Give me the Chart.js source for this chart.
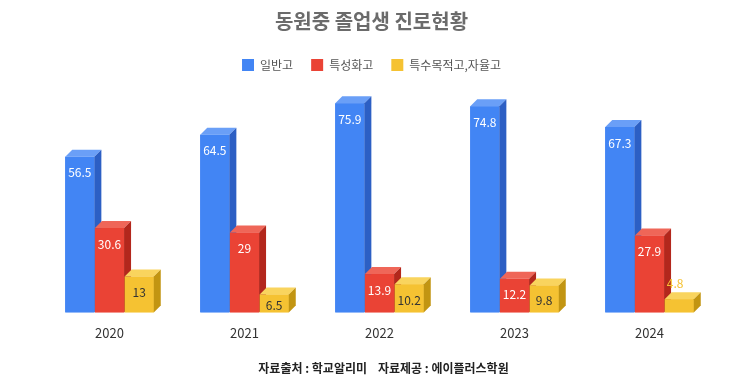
<!DOCTYPE html>
<html>
<head>
<meta charset="utf-8">
<script src="https://cdn.jsdelivr.net/npm/chart.js@4.4.0/dist/chart.umd.min.js"></script>
<style>
  html, body { margin: 0; padding: 0; background: #fff; }
</style>
</head>
<body>
<canvas id="c" width="743" height="389"></canvas>
<script>
// 동원중 졸업생 진로현황 (%)
const years = ['2020', '2021', '2022', '2023', '2024'];
const seriesNames = ['일반고', '특성화고', '특수목적고,자율고'];
const general = [56.5, 64.5, 75.9, 74.8, 67.3];
const vocational = [30.6, 29, 13.9, 12.2, 27.9];
const special = [13, 6.5, 10.2, 9.8, 4.8];

const FONT = '"Noto Sans CJK KR", "Noto Sans", sans-serif';

// front / top / side shades for each series
const shades = [
    { front: '#4285f4', top: '#6a9ff7', side: '#2c5fc4', label: '#ffffff' },
    { front: '#ea4335', top: '#ef6658', side: '#b3271c', label: '#ffffff' },
    { front: '#f5c232', top: '#f9d45e', side: '#c29512', label: '#333333' }
];

const DEPTH = 7;

const bars3d = {
    id: 'bars3d',
    afterDatasetsDraw: function (chart) {
        const ctx = chart.ctx;
        const d = DEPTH;
        ctx.save();
        for (let i = 0; i < chart.data.labels.length; i++) {
            chart.data.datasets.forEach(function (ds, j) {
                const el = chart.getDatasetMeta(j).data[i];
                const p = el.getProps(['x', 'y', 'base', 'width'], true);
                const l = p.x - p.width / 2, r = p.x + p.width / 2;
                const c = shades[j];
                // front
                ctx.fillStyle = c.front;
                ctx.fillRect(l, p.y, p.width, p.base - p.y);
                // top
                ctx.fillStyle = c.top;
                ctx.beginPath();
                ctx.moveTo(l, p.y);
                ctx.lineTo(l + d, p.y - d);
                ctx.lineTo(r + d, p.y - d);
                ctx.lineTo(r, p.y);
                ctx.closePath();
                ctx.fill();
                // side
                ctx.fillStyle = c.side;
                ctx.beginPath();
                ctx.moveTo(r, p.y);
                ctx.lineTo(r + d, p.y - d);
                ctx.lineTo(r + d, p.base - d);
                ctx.lineTo(r, p.base);
                ctx.closePath();
                ctx.fill();
            });
        }
        // value labels
        ctx.font = '12px ' + FONT;
        ctx.textAlign = 'center';
        ctx.textBaseline = 'middle';
        chart.data.datasets.forEach(function (ds, j) {
            chart.getDatasetMeta(j).data.forEach(function (el, i) {
                const p = el.getProps(['x', 'y', 'base'], true);
                const h = p.base - p.y;
                const txt = String(ds.data[i]);
                if (h < 15) {
                    ctx.fillStyle = shades[j].front;
                    ctx.fillText(txt, p.x - 4, p.y - 16);
                } else {
                    ctx.fillStyle = shades[j].label;
                    ctx.fillText(txt, p.x, p.y + Math.min(16, h / 2 + 2));
                }
            });
        });
        ctx.restore();
    },
    afterDraw: function (chart) {
        const ctx = chart.ctx;
        ctx.save();
        ctx.font = 'bold 12px ' + FONT;
        ctx.fillStyle = '#222222';
        ctx.textAlign = 'center';
        ctx.textBaseline = 'middle';
        ctx.fillText('자료출처 : 학교알리미    자료제공 : 에이플러스학원', chart.width / 2 + 12, 368);
        ctx.restore();
    }
};

new Chart(document.getElementById('c').getContext('2d'), {
    type: 'bar',
    data: {
        labels: years,
        datasets: [
            { label: seriesNames[0], data: general, backgroundColor: shades[0].front },
            { label: seriesNames[1], data: vocational, backgroundColor: shades[1].front },
            { label: seriesNames[2], data: special, backgroundColor: shades[2].front }
        ]
    },
    options: {
        responsive: false,
        animation: false,
        datasets: {
            bar: {
                categoryPercentage: 0.66,
                barPercentage: 0.98,
                backgroundColor: 'rgba(0,0,0,0)'
            }
        },
        layout: { padding: { top: 0, bottom: 43 } },
        plugins: {
            title: {
                display: true,
                text: '동원중 졸업생 진로현황',
                color: '#6b6b6b',
                font: { family: FONT, size: 20, weight: 'bold' },
                padding: { top: 9, bottom: 8 }
            },
            legend: {
                display: true,
                labels: {
                    color: '#555555',
                    font: { family: FONT, size: 12 },
                    boxWidth: 12,
                    boxHeight: 12,
                    padding: 18,
                    generateLabels: function (chart) {
                        return seriesNames.map(function (name, j) {
                            return {
                                text: name,
                                fillStyle: shades[j].front,
                                strokeStyle: shades[j].front,
                                lineWidth: 0,
                                datasetIndex: j,
                                fontColor: '#555555'
                            };
                        });
                    }
                }
            },
            tooltip: { enabled: false }
        },
        scales: {
            x: {
                grid: { display: false },
                border: { display: false },
                ticks: { color: '#333333', padding: 5, font: { family: FONT, size: 13 } }
            },
            y: {
                min: 0,
                max: 84,
                display: true,
                grid: { display: false },
                border: { display: false },
                ticks: { display: false },
                afterFit: function (scale) { scale.width = 42; }
            },
            y2: {
                position: 'right',
                display: true,
                grid: { display: false },
                border: { display: false },
                ticks: { display: false },
                afterFit: function (scale) { scale.width = 26; }
            }
        }
    },
    plugins: [bars3d]
});
</script>
</body>
</html>
